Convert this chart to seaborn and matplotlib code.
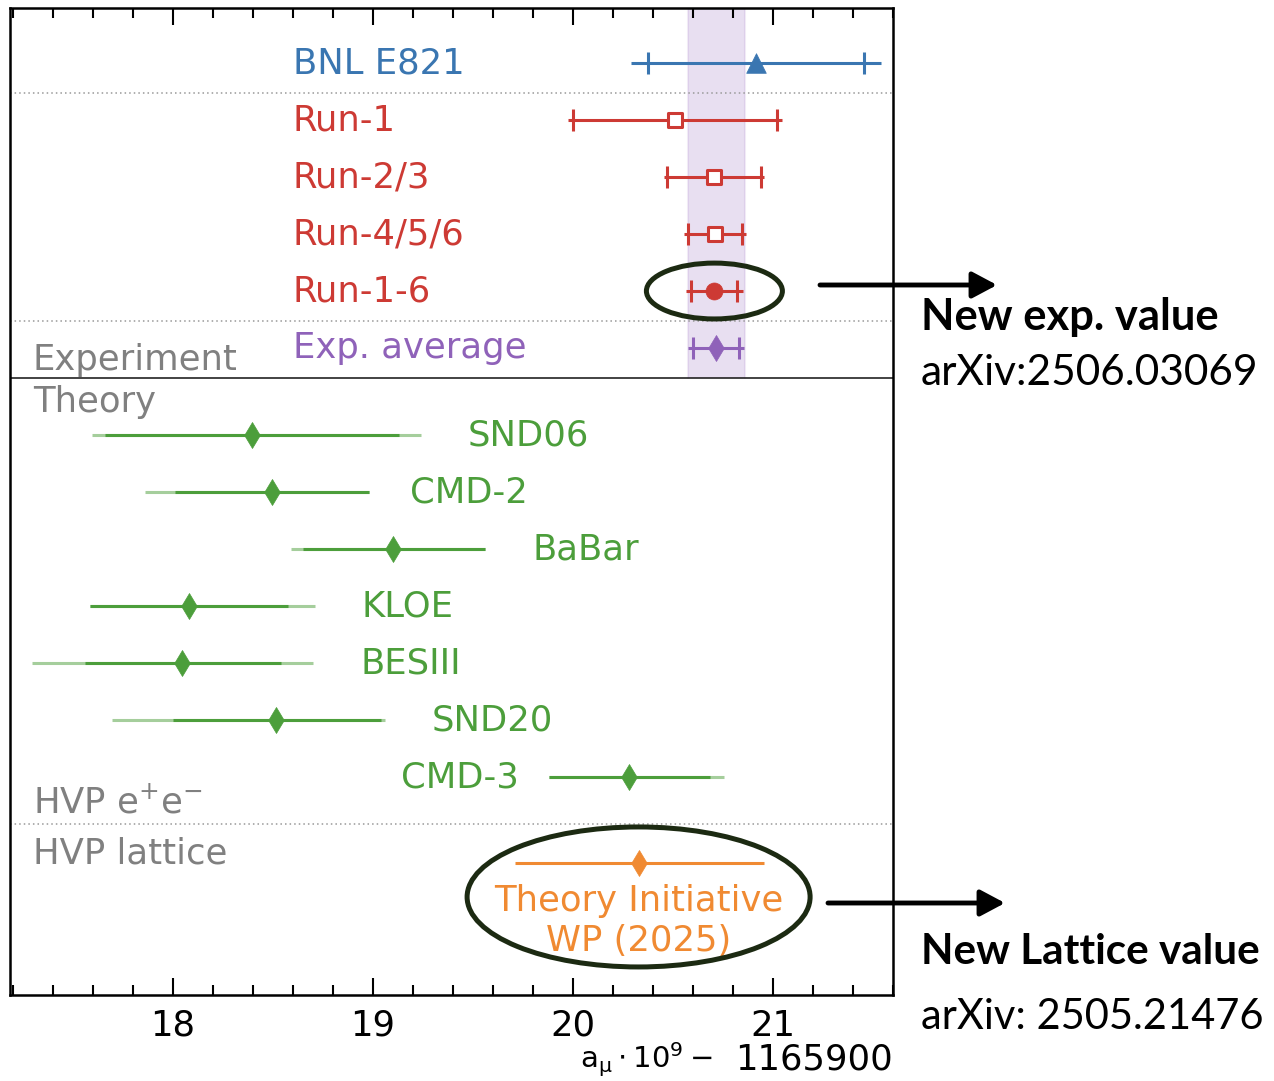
import numpy as np
import matplotlib
matplotlib.use("Agg")
import matplotlib.pyplot as plt
import seaborn as sns
from matplotlib.patches import Ellipse, FancyArrowPatch
from matplotlib.ticker import MultipleLocator, FixedLocator

# ---------------- data (a_mu * 1e9 - 1165900) ----------------
exp_labels = ["BNL E821", "Run-1", "Run-2/3", "Run-4/5/6", "Run-1-6", "Exp. average"]
exp_center = [20.915, 20.51, 20.705, 20.71, 20.707, 20.715]
exp_err_cap = [0.54, 0.51, 0.236, 0.134, 0.115, 0.116]
exp_err_tot = [0.627, 0.535, 0.25, 0.157, 0.142, 0.138]
exp_band = [20.576, 20.862]

th_labels = ["SND06", "CMD-2", "BaBar", "KLOE", "BESIII", "SND20", "CMD-3"]
th_center = [18.395, 18.495, 19.10, 18.08, 18.045, 18.517, 20.279]
th_lo_in = [17.66, 18.008, 18.65, 17.587, 17.559, 18.00, 19.878]
th_hi_in = [19.13, 18.98, 19.558, 18.575, 18.538, 19.04, 20.683]
th_lo_out = [17.597, 17.858, 18.592, 17.587, 17.295, 17.697, 19.878]
th_hi_out = [19.24, 18.98, 19.558, 18.71, 18.70, 19.062, 20.755]
th_label_x = [19.474, 19.184, 19.799, 18.944, 18.939, 19.294, 19.729]

wp_label = "Theory Initiative"
wp_label2 = "WP (2025)"
wp_center = 20.328
wp_lo = 19.708
wp_hi = 20.953

xticks = [18, 19, 20, 21]

# ---------------- style ----------------
sns.set_style("ticks")
plt.rcParams['font.family'] = ['DejaVu Sans']
plt.rcParams['text.color'] = 'black'
plt.rcParams['xtick.color'] = 'black'
plt.rcParams['xtick.labelcolor'] = 'black'
FS = 25.5

c_blue = "#3a76b1"
c_red = "#cd3a34"
c_green = "#4c9e3b"
c_purple = "#8f62b9"
c_orange = "#f08a32"
c_gray = "#808080"
c_ell = "#1c2a12"

W, H = 1274, 1081
fig = plt.figure(figsize=(W / 100, H / 100), dpi=100)
ax = fig.add_axes([10 / W, 1 - 995 / H, (893 - 10) / W, (995 - 8) / H])

ax.set_xlim(17.185, 21.6)
ytop, ybot = 0.035, 17.35
ax.set_ylim(ybot, ytop)

exp_y = np.arange(len(exp_labels)) + 1.0
sep_y = 6.53
th_y = sep_y + 1.0 + np.arange(len(th_labels))
wp_y = 15.04
dot_lines = [1.526, 5.53, 14.35]

# purple band (experimental average)
ax.fill_betweenx([ytop, sep_y], exp_band[0], exp_band[1], color=c_purple,
                 alpha=0.2, lw=0, zorder=0)
for xb in exp_band:
    ax.plot([xb, xb], [ytop, sep_y], color=c_purple, alpha=0.12, lw=1.5, zorder=0)

# separators
ax.axhline(sep_y, color="#222222", lw=1.2, zorder=1)
for yl in dot_lines:
    ax.axhline(yl, color="#999999", lw=1.1, ls=(0, (1, 2)), zorder=1)

# experimental error bars
exp_colors = [c_blue, c_red, c_red, c_red, c_red, c_purple]
for i in range(len(exp_labels)):
    c = exp_colors[i]
    ax.hlines(exp_y[i], exp_center[i] - exp_err_tot[i], exp_center[i] + exp_err_tot[i],
              color=c, lw=2.2, zorder=2)
    ax.errorbar([exp_center[i]], [exp_y[i]], xerr=[exp_err_cap[i]], fmt='none',
                ecolor=c, elinewidth=0, capsize=8, capthick=2.2, zorder=2)
    ax.text(18.60, exp_y[i], exp_labels[i], color=c, fontsize=FS, va='center', ha='left')

sns.scatterplot(x=[exp_center[0]], y=[exp_y[0]], marker='^', s=200, color=c_blue,
                edgecolor=c_blue, linewidth=0.5, ax=ax, zorder=3)
sns.scatterplot(x=exp_center[1:4], y=exp_y[1:4], marker='s', s=90, color='white',
                edgecolor=c_red, linewidth=2.2, ax=ax, zorder=3)
sns.scatterplot(x=[exp_center[4]], y=[exp_y[4]], marker='o', s=150, color=c_red,
                edgecolor=c_red, linewidth=0.5, ax=ax, zorder=3)
sns.scatterplot(x=[exp_center[5]], y=[exp_y[5]], marker='d', s=175, color=c_purple,
                edgecolor=c_purple, linewidth=0.5, ax=ax, zorder=3)

# theory (e+e- HVP)
ax.hlines(th_y, th_lo_out, th_hi_out, color=c_green, alpha=0.5, lw=2.2, zorder=2)
ax.hlines(th_y, th_lo_in, th_hi_in, color=c_green, lw=2.2, zorder=2)
sns.scatterplot(x=th_center, y=th_y, marker='d', s=175, color=c_green,
                edgecolor=c_green, linewidth=0.5, ax=ax, zorder=3)
for i in range(len(th_labels)):
    ha = 'right' if th_label_x[i] < th_lo_in[i] else 'left'
    ax.text(th_label_x[i], th_y[i], th_labels[i], color=c_green, fontsize=FS,
            va='center', ha=ha)

# lattice
ax.hlines(wp_y, wp_lo, wp_hi, color=c_orange, lw=2.2, zorder=2)
sns.scatterplot(x=[wp_center], y=[wp_y], marker='d', s=175, color=c_orange,
                edgecolor=c_orange, linewidth=0.5, ax=ax, zorder=3)
ax.text(wp_center, wp_y + 0.84, wp_label, color=c_orange, fontsize=FS,
        ha='center', va='baseline')
ax.text(wp_center, wp_y + 1.54, wp_label2, color=c_orange, fontsize=FS,
        ha='center', va='baseline')

# section labels
xs = 17.30
ax.text(xs, sep_y - 0.14, "Experiment", color=c_gray, fontsize=FS, va='baseline')
ax.text(xs, sep_y + 0.60, "Theory", color=c_gray, fontsize=FS, va='baseline')
ax.text(xs, dot_lines[2] - 0.19, r"HVP e$^{+}$e$^{-}$", color=c_gray, fontsize=FS,
        va='baseline')
ax.text(xs, dot_lines[2] + 0.70, "HVP lattice", color=c_gray, fontsize=FS, va='baseline')

# ellipses
ax.add_patch(Ellipse((exp_center[4], exp_y[4]), 0.68, 0.98, fill=False, lw=3.6,
                     edgecolor=c_ell, zorder=4, clip_on=False))
ax.add_patch(Ellipse((wp_center, wp_y + 0.59), 1.715, 2.456, fill=False, lw=3.6,
                     edgecolor=c_ell, zorder=4, clip_on=False))

# axes styling
ax.set_yticks([])
ax.xaxis.set_major_locator(FixedLocator(xticks))
ax.xaxis.set_minor_locator(MultipleLocator(0.2))
ax.tick_params(axis='x', which='both', direction='in', top=True, bottom=True,
               labelsize=FS, pad=10, width=1.5, color='black', labelcolor='black')
ax.tick_params(axis='x', which='major', length=12.5)
ax.tick_params(axis='x', which='minor', length=7)
for s in ax.spines.values():
    s.set_visible(True)
    s.set_linewidth(1.8)
    s.set_color('black')
ax.set_xlabel("")
ax.set_ylabel("")

# x label
fig.text(713 / W, 1 - 1068 / H, r"$\mathregular{a_{\mu}\cdot10^{9}-}$", fontsize=21,
         ha='right', va='baseline', color='black')
fig.text(893 / W, 1 - 1070 / H, "1165900", fontsize=FS, ha='right', va='baseline',
         color='black')

# arrows and notes
for (x0, x1, yy) in [(820, 997, 285), (828, 1005, 903)]:
    arr = FancyArrowPatch((x0 / W, 1 - yy / H), (x1 / W, 1 - yy / H),
                          transform=fig.transFigure,
                          arrowstyle='-|>,head_length=0.75,head_width=0.4',
                          mutation_scale=20, lw=3.5, color='black', shrinkA=0, shrinkB=0)
    fig.add_artist(arr)

nf = 'Lato'
fig.text(921 / W, 1 - 330 / H, "New exp. value", fontfamily=nf, fontweight='bold',
         fontsize=31.3, ha='left', va='baseline', color='black')
fig.text(921 / W, 1 - 385 / H, "arXiv:2506.03069", fontfamily=nf, fontsize=30.5,
         ha='left', va='baseline', color='black')
fig.text(921 / W, 1 - 964 / H, "New Lattice value", fontfamily=nf, fontweight='bold',
         fontsize=30.4, ha='left', va='baseline', color='black')
fig.text(921 / W, 1 - 1029 / H, "arXiv: 2505.21476", fontfamily=nf, fontsize=30,
         ha='left', va='baseline', color='black')

fig.savefig("out.png", dpi=100)
